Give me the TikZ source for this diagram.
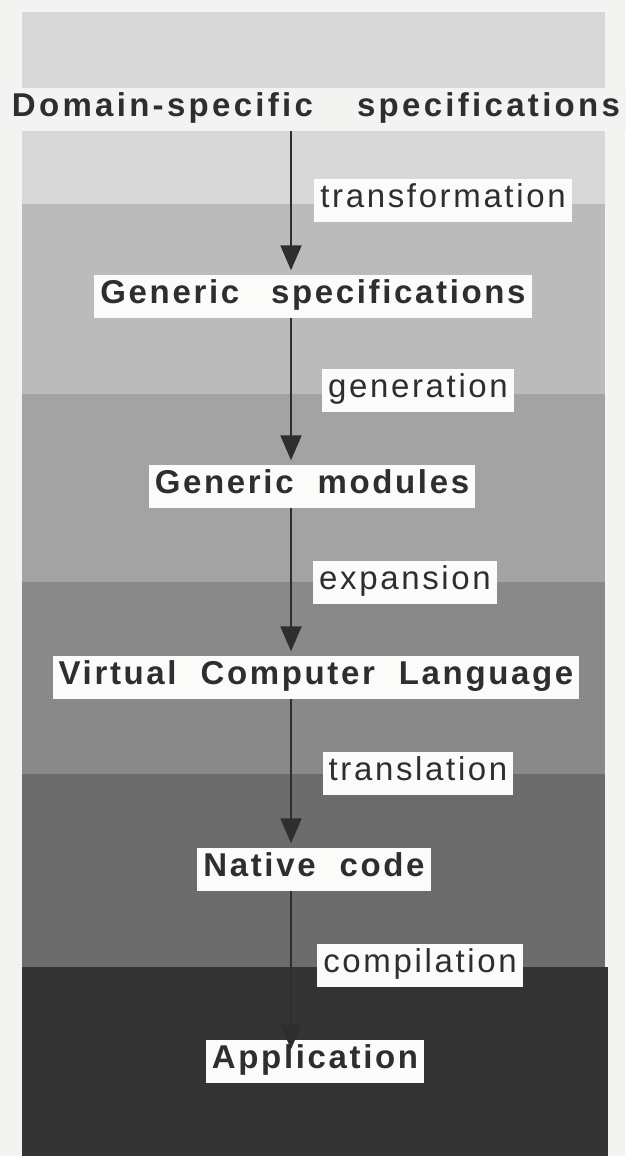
\documentclass[tikz,border=0pt]{standalone}
\usepackage{fontspec}
\setmainfont{Liberation Sans}
\newfontfamily\stagefont[LetterSpace=8]{Liberation Sans}
\usetikzlibrary{arrows.meta}

\definecolor{paper}{HTML}{F3F3F1}
\definecolor{boxwhite}{HTML}{FBFBFA}
\definecolor{ink}{HTML}{2E2E2E}
\definecolor{bandA}{HTML}{D8D8D8}
\definecolor{bandB}{HTML}{BBBBBB}
\definecolor{bandC}{HTML}{A3A3A3}
\definecolor{bandD}{HTML}{898989}
\definecolor{bandE}{HTML}{6C6C6C}
\definecolor{bandF}{HTML}{343434}

\newcommand\wordgap{\hspace{24pt}}

\tikzset{
  boxed/.style={fill=boxwhite, text=ink, inner xsep=6pt, inner ysep=0pt,
    minimum height=43pt, text height=26pt, text depth=12pt},
  stage/.style={boxed, font=\stagefont\bfseries\fontsize{33}{35}\selectfont},
  verb/.style={boxed, font=\stagefont\fontsize{33}{35}\selectfont},
  flow/.style={draw=ink, line width=2.2pt,
    -{Triangle[width=21pt,length=25pt]}, shorten >=4pt}
}

\begin{document}
\begin{tikzpicture}[x=1pt,y=-1pt]
  \useasboundingbox[fill=paper] (0,0) rectangle (625,1156);

  % shaded levels, light to dark
  \fill[bandA] (22,12)  rectangle (605,204);
  \fill[bandB] (22,204) rectangle (605,394);
  \fill[bandC] (22,394) rectangle (605,582);
  \fill[bandD] (22,582) rectangle (605,774);
  \fill[bandE] (22,774) rectangle (605,967);
  \fill[bandF] (22,967) rectangle (608,1156);

  % column of the arrows
  \coordinate (ax) at (291,0);

  % levels
  \node[stage, fill=paper, inner xsep=9pt] (dom) at (316,109)
    {\addfontfeatures{LetterSpace=10}Domain-specific\hspace{44pt}specifications};
  \node[stage] (gsp) at (313,296) {Generic\hspace{32pt}specifications};
  \node[stage] (gmd) at (312,486) {Generic\wordgap modules};
  \node[stage] (vcl) at (316,677) {Virtual\wordgap Computer\wordgap Language};
  \node[stage] (nat) at (314,869) {Native\wordgap code};
  \node[stage] (app) at (315,1061) {Application};

  % arrows between levels
  \draw[flow] (dom.south -| ax) -- (gsp.north -| ax);
  \draw[flow] (gsp.south -| ax) -- (gmd.north -| ax);
  \draw[flow] (gmd.south -| ax) -- (vcl.north -| ax);
  \draw[flow] (vcl.south -| ax) -- (nat.north -| ax);
  \draw[flow, shorten >=-10pt] (nat.south -| ax) -- (app.north -| ax);

  % step names
  \node[verb] (t1) at (443,200) {transformation};
  \node[verb] (t2) at (418,390) {generation};
  \node[verb] (t3) at (405,582) {expansion};
  \node[verb] (t4) at (418,773) {translation};
  \node[verb] (t5) at (420,965) {compilation};
\end{tikzpicture}
\end{document}
